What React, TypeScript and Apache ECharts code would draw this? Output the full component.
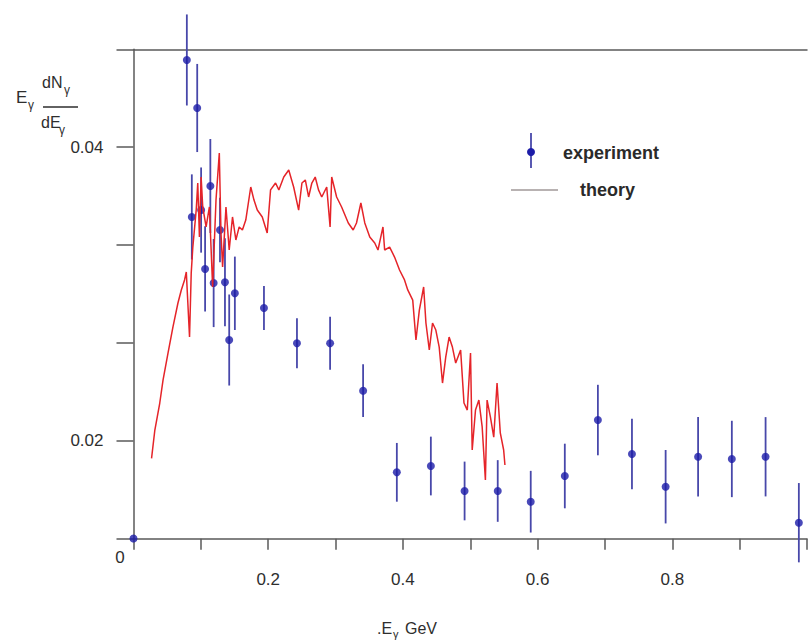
import React, { useEffect, useRef } from "react";
import * as echarts from "echarts";

// experimental points
const expX = [0.0, 0.0792, 0.0946, 0.0866, 0.1004, 0.1141, 0.1063, 0.119, 0.1284, 0.1358, 0.1505, 0.1421, 0.1937, 0.2427, 0.2919, 0.3409, 0.391, 0.4415, 0.4916, 0.5408, 0.5898, 0.6404, 0.6895, 0.7401, 0.7901, 0.8383, 0.8884, 0.9385, 0.9879];
const expY = [0.01335, 0.04594, 0.04267, 0.03525, 0.03572, 0.03736, 0.03171, 0.03075, 0.03436, 0.0308, 0.03005, 0.02687, 0.02905, 0.02665, 0.02665, 0.02342, 0.01786, 0.01829, 0.01659, 0.01659, 0.01586, 0.01761, 0.02142, 0.01911, 0.01688, 0.01892, 0.01877, 0.01892, 0.01443];
const expErr = [0, 0.0031, 0.003, 0.0029, 0.0029, 0.0032, 0.0029, 0.003, 0.0022, 0.003, 0.0025, 0.0031, 0.0015, 0.0017, 0.0018, 0.0018, 0.002, 0.002, 0.002, 0.0021, 0.0021, 0.0022, 0.0024, 0.0024, 0.0025, 0.0027, 0.0026, 0.0027, 0.0027];

// theory curve
const theoryX = [0.0268, 0.0317, 0.039, 0.0439, 0.0513, 0.0586, 0.066, 0.071, 0.0758, 0.0784, 0.0832, 0.0857, 0.0881, 0.0931, 0.0954, 0.0979, 0.1004, 0.1028, 0.1078, 0.1127, 0.1175, 0.1225, 0.1274, 0.1299, 0.1323, 0.1373, 0.1421, 0.147, 0.152, 0.1569, 0.1617, 0.1667, 0.1741, 0.1789, 0.1838, 0.1912, 0.1985, 0.2035, 0.2109, 0.2158, 0.2231, 0.2305, 0.2378, 0.2452, 0.2501, 0.2551, 0.26, 0.2648, 0.2698, 0.2747, 0.2795, 0.2869, 0.2919, 0.2943, 0.3016, 0.309, 0.3189, 0.3262, 0.3311, 0.3376, 0.3434, 0.3508, 0.3582, 0.363, 0.3704, 0.3729, 0.3803, 0.3876, 0.395, 0.4024, 0.4072, 0.4146, 0.4194, 0.4244, 0.4308, 0.4342, 0.4392, 0.444, 0.4489, 0.4539, 0.4588, 0.4636, 0.4686, 0.4735, 0.4784, 0.4857, 0.4907, 0.4956, 0.5004, 0.5029, 0.5078, 0.5128, 0.5177, 0.5225, 0.525, 0.5299, 0.5349, 0.5398, 0.5446, 0.5496, 0.5515];
const theoryY = [0.01881, 0.02074, 0.02258, 0.02415, 0.02599, 0.02776, 0.02939, 0.03028, 0.03096, 0.0315, 0.02707, 0.03143, 0.0332, 0.03572, 0.03756, 0.03388, 0.03797, 0.03593, 0.03457, 0.03593, 0.03048, 0.0364, 0.0396, 0.03416, 0.03184, 0.03593, 0.033, 0.03525, 0.03368, 0.03457, 0.03436, 0.03504, 0.03729, 0.0364, 0.03572, 0.03525, 0.03416, 0.03709, 0.03756, 0.03709, 0.03797, 0.03845, 0.03729, 0.03572, 0.03756, 0.03777, 0.03661, 0.03756, 0.03797, 0.03709, 0.03661, 0.03729, 0.03457, 0.03797, 0.03661, 0.03593, 0.03484, 0.03436, 0.03484, 0.0362, 0.03484, 0.03388, 0.03348, 0.033, 0.03457, 0.033, 0.0332, 0.03252, 0.03164, 0.03096, 0.03028, 0.02959, 0.02687, 0.02891, 0.03048, 0.02803, 0.02619, 0.02803, 0.02755, 0.02639, 0.02394, 0.02571, 0.02707, 0.02639, 0.0253, 0.02619, 0.02258, 0.0221, 0.02599, 0.01938, 0.0221, 0.02278, 0.02095, 0.01734, 0.02278, 0.02163, 0.02026, 0.02394, 0.02054, 0.01938, 0.01836];

const xTickLabels = ["0.2", "0.4", "0.6", "0.8"];
const yTickLabels = ["0.02", "0.04"];

const FONT = "'Liberation Sans', Arial, Helvetica, sans-serif";
const AXIS_COLOR = "#5a5a5a";
const TEXT_COLOR = "#2e2e2e";

export default function App() {
  const ref = useRef<HTMLDivElement>(null);

  useEffect(() => {
    if (!ref.current) return;
    const chart = echarts.init(ref.current, undefined, { renderer: "svg" });

    const errData = expX.map((x, i) => [x, expY[i] - expErr[i], expY[i] + expErr[i]]);
    const ptData = expX.map((x, i) => [x, expY[i]]);
    const thData = theoryX.map((x, i) => [x, theoryY[i]]);

    const yInt = 0.02 / 3;

    chart.setOption({
      animation: false,
      backgroundColor: "#fff",
      textStyle: { fontFamily: FONT },
      grid: { left: 133.5, right: -2.5, top: 49.3, bottom: 105.2, containLabel: false },
      xAxis: [
        {
          type: "value",
          min: 0,
          max: 1,
          interval: 0.1,
          position: "bottom",
          axisLine: { show: true, onZero: false, lineStyle: { color: AXIS_COLOR, width: 1.5 } },
          axisTick: { show: true, length: 11, lineStyle: { color: AXIS_COLOR, width: 1.5 } },
          axisLabel: {
            margin: 32,
            fontSize: 17,
            color: TEXT_COLOR,
            fontFamily: FONT,
            formatter: (v: number) => {
              const s = String(Math.round(v * 10) / 10);
              return xTickLabels.includes(s) ? s : "";
            },
          },
          splitLine: { show: false },
        },
        {
          type: "value",
          min: 0,
          max: 1,
          position: "top",
          axisLine: { show: true, onZero: false, lineStyle: { color: AXIS_COLOR, width: 1.5 } },
          axisTick: { show: false },
          axisLabel: { show: false },
          splitLine: { show: false },
        },
      ],
      yAxis: {
        type: "value",
        min: 2 * yInt,
        max: 7 * yInt,
        interval: yInt,
        axisLine: { show: true, onZero: false, lineStyle: { color: AXIS_COLOR, width: 1.5 } },
        axisTick: { show: true, length: 17, lineStyle: { color: AXIS_COLOR, width: 1.5 } },
        axisLabel: {
          margin: 30,
          fontSize: 17,
          color: TEXT_COLOR,
          fontFamily: FONT,
          formatter: (v: number) => {
            const s = String(Math.round(v * 1000) / 1000);
            return yTickLabels.includes(s) ? s : "";
          },
        },
        splitLine: { show: false },
      },
      series: [
        {
          type: "custom",
          name: "errors",
          clip: false,
          data: errData,
          encode: { x: 0, y: [1, 2] },
          renderItem: (params: any, api: any) => {
            const x = api.value(0);
            const lo = api.coord([x, api.value(1)]);
            const hi = api.coord([x, api.value(2)]);
            return {
              type: "line",
              shape: { x1: lo[0], y1: lo[1], x2: hi[0], y2: hi[1] },
              style: { stroke: "#4848aa", lineWidth: 1.8 },
            };
          },
          z: 2,
        },
        {
          type: "scatter",
          name: "experiment",
          clip: false,
          data: ptData,
          symbol: "circle",
          symbolSize: 8,
          itemStyle: { color: "#1c1ca8" },
          z: 3,
        },
        {
          type: "line",
          name: "theory",
          data: thData,
          showSymbol: false,
          symbol: "none",
          lineStyle: { color: "#e52429", width: 1.5 },
          z: 4,
        },
      ],
      graphic: [
        // corner zero label
        { type: "text", x: 120, y: 557, style: { text: "0", fontSize: 17, fontFamily: FONT, fill: TEXT_COLOR, align: "center", verticalAlign: "middle" } },
        // y-axis title: E_γ dN_γ / dE_γ
        { type: "text", x: 16, y: 97, style: { text: "E", fontSize: 17, fontFamily: FONT, fill: TEXT_COLOR, align: "left", verticalAlign: "middle" } },
        { type: "text", x: 28, y: 105, style: { text: "γ", fontSize: 12, fontFamily: FONT, fill: TEXT_COLOR, align: "left", verticalAlign: "middle" } },
        { type: "text", x: 42, y: 82, style: { text: "dN", fontSize: 16, fontFamily: FONT, fill: TEXT_COLOR, align: "left", verticalAlign: "middle" } },
        { type: "text", x: 64, y: 90, style: { text: "γ", fontSize: 12, fontFamily: FONT, fill: TEXT_COLOR, align: "left", verticalAlign: "middle" } },
        { type: "line", shape: { x1: 43, y1: 107, x2: 78, y2: 107 }, style: { stroke: TEXT_COLOR, lineWidth: 1.6 } },
        { type: "text", x: 41, y: 122, style: { text: "dE", fontSize: 16, fontFamily: FONT, fill: TEXT_COLOR, align: "left", verticalAlign: "middle" } },
        { type: "text", x: 59, y: 130, style: { text: "γ", fontSize: 12, fontFamily: FONT, fill: TEXT_COLOR, align: "left", verticalAlign: "middle" } },
        // x-axis title: .E_γ GeV
        { type: "text", x: 377, y: 628, style: { text: ".E", fontSize: 16, fontFamily: FONT, fill: TEXT_COLOR, align: "left", verticalAlign: "middle" } },
        { type: "text", x: 393, y: 634, style: { text: "γ", fontSize: 11, fontFamily: FONT, fill: TEXT_COLOR, align: "left", verticalAlign: "middle" } },
        { type: "text", x: 405, y: 628, style: { text: "GeV", fontSize: 16, fontFamily: FONT, fill: TEXT_COLOR, align: "left", verticalAlign: "middle" } },
        // legend
        { type: "line", shape: { x1: 531, y1: 133, x2: 531, y2: 168 }, style: { stroke: "#4848aa", lineWidth: 1.8 } },
        { type: "circle", shape: { cx: 531, cy: 152, r: 4 }, style: { fill: "#1c1ca8" } },
        { type: "text", x: 563, y: 153, style: { text: "experiment", fontSize: 18, fontWeight: "bold", fontFamily: FONT, fill: "#2a2a2a", align: "left", verticalAlign: "middle" } },
        { type: "line", shape: { x1: 511, y1: 190, x2: 558, y2: 190 }, style: { stroke: "#a09898", lineWidth: 1.5 } },
        { type: "text", x: 580, y: 190, style: { text: "theory", fontSize: 18, fontWeight: "bold", fontFamily: FONT, fill: "#2a2a2a", align: "left", verticalAlign: "middle" } },
      ],
    });

    return () => chart.dispose();
  }, []);

  return (
    <div
      ref={ref}
      style={{ position: "absolute", left: 0, top: 0, width: 810, height: 644, background: "#fff" }}
    />
  );
}
